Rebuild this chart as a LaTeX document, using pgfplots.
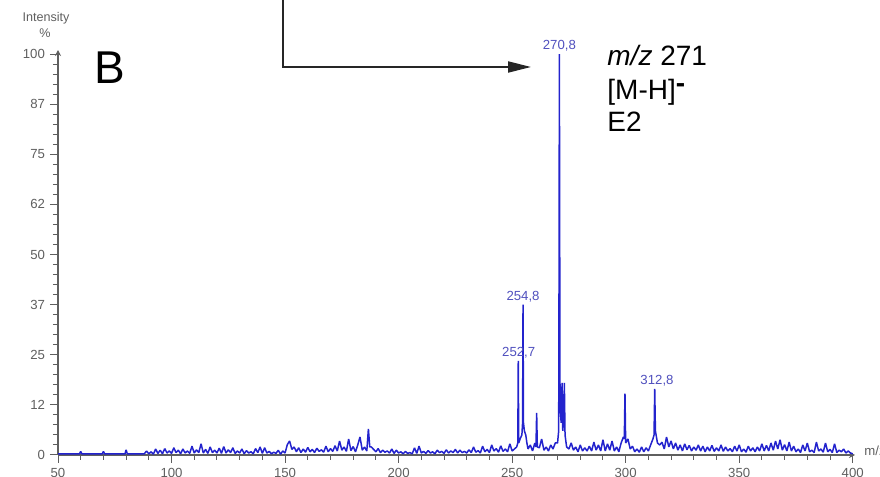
\documentclass[border=0pt]{standalone}
\usepackage{pgfplots}
\pgfplotsset{compat=1.18}
\usepackage{fontspec}
\setmainfont{Liberation Sans}
\usetikzlibrary{arrows.meta}
\definecolor{spec}{RGB}{35,35,205}
\definecolor{lab}{RGB}{80,80,190}
\definecolor{axg}{RGB}{95,95,95}
\newcommand{\px}[2]{({#1*0.5pt},{(477-#2)*0.5pt})}
\begin{document}
\begin{tikzpicture}
\begin{axis}[
  at={(29pt,11pt)}, anchor=south west,
  scale only axis, width=398.5pt, height=202.5pt,
  xmin=50, xmax=401, ymin=0, ymax=101,
  axis lines=left,
  axis line style={axg, line width=0.6pt, -{Stealth[length=3pt,width=3pt]}},
  clip=false,
  tick style={axg, line width=0.5pt},
  tick align=outside,
  major tick length=4pt, minor tick length=2.5pt,
  xtick={50,100,...,400}, minor x tick num=4,
  ytick={0,12.5,25,37.5,50,62.5,75,87.5,100},
  yticklabels={0,12,25,37,50,62,75,87,100},
  minor y tick num=4,
  tick label style={font=\fontsize{6.6}{7}\selectfont, text=axg},
  /pgf/number format/assume math mode=true,
  xticklabel style={yshift=1pt},
  yticklabel style={xshift=1pt},
]
\addplot[spec, line width=0.75pt, sharp plot, line join=bevel] coordinates {
(50,0.3)(59.5,0.3)(60,0.9)(60.5,0.3)(69.5,0.3)(70,0.9)(70.5,0.3)(79.5,0.3)(80,1.3)(80.5,0.3)(88,0.3)
(89,1)(90,0.3)(91,0.8)(92,0.2)(93,1.5)(94,0.4)(95,1.2)(96,0.3)(97,1.6)(98,0.5)(99,1.0)(100,0.4)
(101,1.8)(102,0.6)(103,1.2)(104,0.3)(105,1.5)(106,0.5)(107,1.0)(108,0.4)(109,2.2)(110,0.5)
(111,1.3)(112,0.6)(113,2.8)(114,0.5)(115,1.4)(116,0.4)(117,2.0)(118,0.6)(119,1.2)(120,0.5)
(121,1.7)(122,0.4)(123,2.1)(124,0.5)(125,1.3)(126,0.6)(127,1.8)(128,0.4)(129,1.0)(130,0.5)
(131,1.5)(132,0.3)(133,1.1)(134,0.5)(135,0.8)(136,0.3)(137,1.6)(138,0.6)(139,2.0)(140,0.4)
(141,1.8)(142,0.5)(143,0.9)(144,0.3)(145,0.7)(146,0.4)(147,1.2)(148,0.2)(149,1.0)(150,0.5)
(151,2.6)(152,3.5)(153,1.4)(154,2.0)(155,0.8)(156,1.8)(157,0.6)(158,1.5)(159,0.7)(160,1.9)
(161,0.8)(162,1.4)(163,0.6)(164,1.7)(165,0.9)(166,1.3)(167,0.7)(168,2.2)(169,0.8)(170,1.6)
(171,0.9)(172,2.3)(173,1.0)(174,3.5)(175,1.2)(176,2.0)(177,0.9)(178,4.0)(179,1.1)(180,2.1)
(181,0.8)(182,2.5)(183,4.5)(184,1.2)(185,2.0)(186,1.0)(186.7,6.5)(187.3,2.0)(188,2.0)(189,1.4)(190,0.8)
(191,1.6)(192,0.6)(193,1.2)(194,0.7)(195,1.0)(196,0.5)(197,1.5)(198,0.4)(199,1.2)(200,0.5)
(201,0.8)(202,0.3)(203,0.9)(204,0.4)(205,0.6)(206,0.3)(207,1.8)(208,0.4)(209,2.2)(210,0.5)
(211,0.9)(212,0.4)(213,1.1)(214,0.5)(215,0.8)(216,0.3)(217,1.2)(218,0.6)(219,0.9)(220,0.4)
(221,1.3)(222,0.5)(223,1.0)(224,0.6)(225,1.4)(226,0.5)(227,1.2)(228,0.6)(229,0.9)(230,0.5)
(231,1.3)(232,0.6)(233,2.0)(234,0.7)(235,1.1)(236,0.5)(237,2.2)(238,0.8)(239,1.4)(240,0.6)
(241,2.5)(242,1.0)(243,1.6)(244,0.7)(245,2.3)(246,0.9)(247,1.5)(248,0.8)(249,2.8)(250,1.0)
(251,1.5)(252,2.0)(252.5,3)(252.7,23.5)(252.9,3)(253.5,4)(254.3,5)(254.6,8)(254.8,37.5)(255.0,8)
(255.4,6)(256,5)(256.5,3)(257,1.5)(258,2.5)(259,1.0)(260,3)(260.5,2)(260.8,10.5)(261.1,2)(262,1.8)
(263,4)(264,1.2)(265,2.0)(266,1)(267,2.5)(268,1.5)(269,3)(270,3)(270.5,6)(270.7,55)(270.8,100)
(270.95,55)(271.1,12)(271.6,8)(272,18)(272.3,6)(272.8,10)(273,18)(273.3,5)
(274,2)(275,1.5)(276,3)(277,1.2)(278,2.0)(279,0.8)(280,2.5)(281,1)(282,1.8)(283,1.0)
(284,2.2)(285,1.0)(286,3.2)(287,1.2)(288,2.5)(289,1.0)(290,3.8)(291,1.0)(292,2.8)(293,1.2)
(294,3.5)(295,1.0)(296,2.0)(297,0.8)(298,3.0)(299,4.5)(299.4,4)(299.7,15.3)(300.0,3)(301,4)(302,1.5)
(303,2.2)(304,0.8)(305,1.5)(306,0.7)(307,2)(308,0.8)(309,1.8)(310,1)(311,2.5)(312,4)(312.5,5)
(312.8,16.5)(313.1,6)(314,3)(315,2.5)(316,3.2)(317,1.5)(318,4.5)(319,2.0)(320,3.5)(321,1.5)
(322,3.0)(323,1.2)(324,2.5)(325,1.0)(326,2.8)(327,1.3)(328,2.4)(329,1.0)(330,2.0)(331,1.2)
(332,2.5)(333,1.0)(334,2.2)(335,0.8)(336,2.0)(337,1.0)(338,2.4)(339,0.9)(340,1.8)(341,1.0)
(342,2.5)(343,0.9)(344,2.0)(345,1.0)(346,1.6)(347,0.8)(348,2.2)(349,1.0)(350,2.5)(351,0.8)
(352,1.5)(353,0.7)(354,2.2)(355,1.0)(356,1.8)(357,0.8)(358,2.0)(359,1.0)(360,2.8)(361,1.0)
(362,2.4)(363,1.0)(364,3.0)(365,1.2)(366,3.5)(367,1.5)(368,3.8)(369,1.2)(370,2.6)(371,1.0)
(372,3.2)(373,1.0)(374,2.2)(375,0.8)(376,1.5)(377,0.6)(378,2.5)(379,1.0)(380,3.0)(381,0.8)
(382,1.2)(383,0.6)(384,3.2)(385,1.0)(386,1.5)(387,0.7)(388,3.0)(389,0.8)(390,1.4)(391,0.6)
(392,2.8)(393,0.6)(394,1.2)(395,0.8)(396,1.5)(397,0.5)(398,1.0)(399,0.5)(400,0.3)
};
\begin{scope}[every node/.style={font=\fontsize{6.6}{7}\selectfont, text=lab, inner sep=1pt}]
\node[above] at (axis cs:270.8,100) {270,8};
\node[above] at (axis cs:254.8,37.5) {254,8};
\node[above] at (axis cs:252.9,23.5) {252,7};
\node[above] at (axis cs:313.8,16.5) {312,8};
\end{scope}
\end{axis}
% axis titles
\node[font=\fontsize{6.3}{7}\selectfont, text=axg] at \px{46}{18} {Intensity};
\node[font=\fontsize{6.3}{7}\selectfont, text=axg] at \px{45}{33} {\%};
\node[font=\fontsize{6.6}{7}\selectfont, text=axg, anchor=west, inner sep=0pt] at \px{864}{451} {m/z};
% panel letter
\node[font=\fontsize{23}{26}\selectfont, anchor=base west, inner sep=0pt] at \px{94}{84} {B};
% arrow
\draw[black!85, line width=1pt, -{Triangle[length=11.5pt,width=5.5pt]}] \px{283}{-4} -- \px{283}{67} -- \px{531}{67};
% annotation text
\node[font=\fontsize{14}{16}\selectfont, anchor=base west, inner sep=0pt] at \px{607}{66} {\textit{m/z} 271};
\node[font=\fontsize{14}{16}\selectfont, anchor=base west, inner sep=0pt] at \px{607}{100} {[M-H]\raisebox{3.5pt}{\textbf{-}}};
\node[font=\fontsize{14}{16}\selectfont, anchor=base west, inner sep=0pt] at \px{607}{132} {E2};
\pgfresetboundingbox
\path[use as bounding box] (0,0) rectangle (440pt,238.5pt);
\end{tikzpicture}
\end{document}
